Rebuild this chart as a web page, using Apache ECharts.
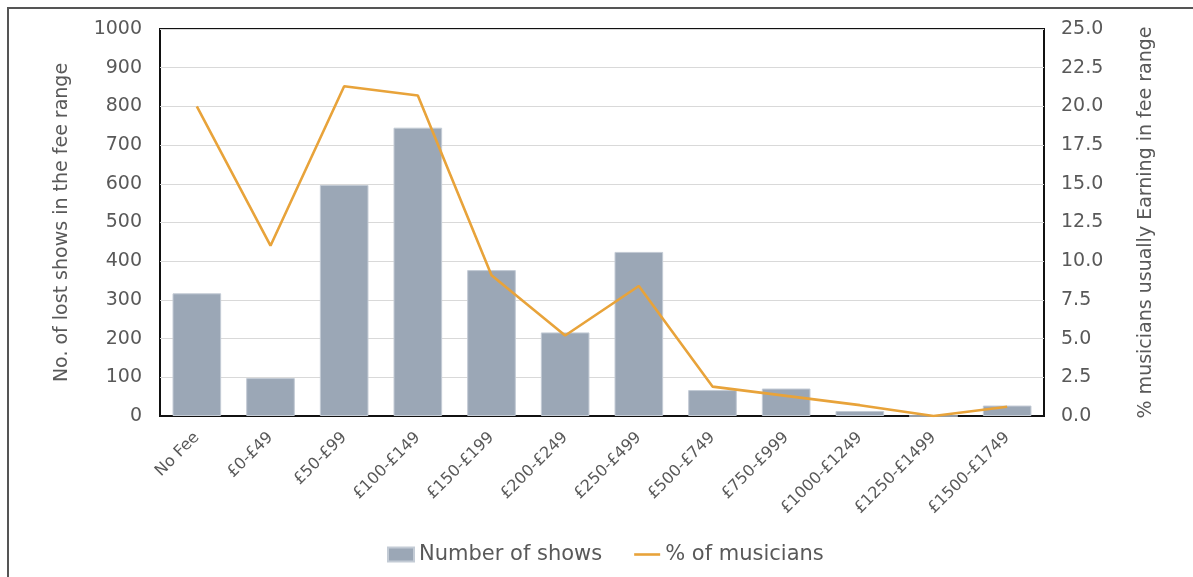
<!DOCTYPE html>
<html>
<head>
<meta charset="utf-8">
<script src="https://cdn.jsdelivr.net/npm/echarts@6/dist/echarts.min.js"></script>
<style>
  html, body { margin: 0; padding: 0; background: #fff; }
  #wrap { position: relative; width: 1193px; height: 577px; }
  #chart { width: 1193px; height: 577px; }
  /* outer frame: only top and left edges are visible */
  .frame {
    position: absolute; left: 7px; top: 7px; right: 0; bottom: 0;
    border-top: 2px solid #555; border-left: 2px solid #555;
    pointer-events: none;
  }
</style>
</head>
<body>
<div id="wrap">
  <div id="chart"></div>
  <div class="frame"></div>
</div>
<script>
// data
const feeRanges = ['No Fee', '£0-£49', '£50-£99', '£100-£149', '£150-£199', '£200-£249',
  '£250-£499', '£500-£749', '£750-£999', '£1000-£1249', '£1250-£1499', '£1500-£1749']
const numberOfShows = [317, 98, 597, 745, 377, 216, 424, 67, 71, 13, 0, 27]
const pctMusicians = [20.0, 11.0, 21.3, 20.7, 9.1, 5.2, 8.4, 1.9, 1.3, 0.7, 0.0, 0.6]

const textColor = '#595959'
const font = 'DejaVu Sans, sans-serif'

const chart = echarts.init(document.getElementById('chart'))

const option = {
  animation: false,
  textStyle: { fontFamily: font },
  grid: {
    left: 160,
    right: 149,
    top: 29,
    bottom: 161,
    show: true,
    borderColor: '#111',
    borderWidth: 2
  },
  legend: {
    left: 382,
    top: 539,
    itemWidth: 26,
    itemHeight: 14,
    itemGap: 32,
    textStyle: { fontSize: 21, color: textColor, fontFamily: font },
    data: [
      { name: 'Number of shows', icon: 'rect' },
      // thin line icon, no marker
      { name: '% of musicians', icon: 'path://M0,0 L26,0 L26,2.6 L0,2.6 Z' }
    ]
  },
  xAxis: {
    type: 'category',
    data: feeRanges,
    axisLine: { show: true, lineStyle: { color: '#111', width: 2 } },
    axisTick: { show: false },
    axisLabel: {
      rotate: 45,
      margin: 19,
      fontSize: 16,
      color: textColor,
      interval: 0
    }
  },
  yAxis: [
    {
      type: 'value',
      min: 0,
      max: 1000,
      interval: 100,
      name: 'No. of lost shows in the fee range',
      nameLocation: 'middle',
      nameGap: 88,
      nameTextStyle: { fontSize: 19, color: textColor },
      axisLine: { show: false },
      axisTick: { show: false },
      axisLabel: { fontSize: 19, color: textColor, margin: 18, formatter: v => String(v) },
      splitLine: { lineStyle: { color: '#d9d9d9', width: 1 } }
    },
    {
      type: 'value',
      min: 0,
      max: 25,
      interval: 2.5,
      name: '% musicians usually Earning in fee range',
      nameLocation: 'middle',
      nameGap: 93,
      nameTextStyle: { fontSize: 19, color: textColor },
      axisLine: { show: false },
      axisTick: { show: false },
      axisLabel: {
        fontSize: 19,
        color: textColor,
        margin: 17,
        formatter: v => v.toFixed(1)
      },
      splitLine: { show: false }
    }
  ],
  series: [
    {
      name: 'Number of shows',
      type: 'bar',
      yAxisIndex: 0,
      data: numberOfShows,
      barWidth: '66%',
      itemStyle: { color: '#9ba7b6', borderColor: '#c3cbd5', borderWidth: 1 }
    },
    {
      name: '% of musicians',
      type: 'line',
      yAxisIndex: 1,
      data: pctMusicians,
      symbol: 'none',
      lineStyle: { color: '#e8a33a', width: 2.6 },
      itemStyle: { color: '#e8a33a' }
    }
  ]
}

chart.setOption(option)
</script>
</body>
</html>
